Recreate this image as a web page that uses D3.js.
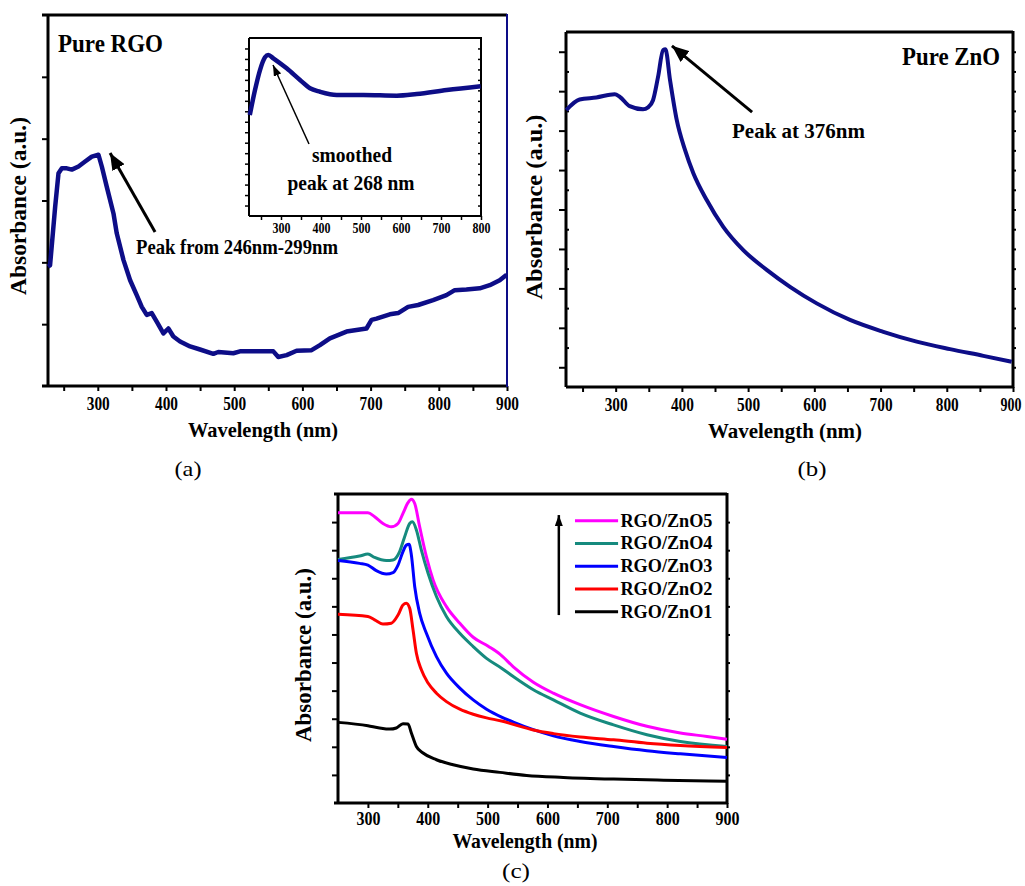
<!DOCTYPE html>
<html>
<head>
<meta charset="utf-8">
<script src="https://cdn.jsdelivr.net/npm/d3@7"></script>
<style>
  body { margin: 0; background: #fff; }
  svg text { font-family: "Liberation Serif", "Times New Roman", Tinos, "Nimbus Roman", Times, serif; font-weight: bold; fill: #000; }
</style>
</head>
<body>
<script>
// ---- data: [wavelength nm, absorbance a.u.] ----
var pureRgo = [[227,1.93],[230,1.95],[237.5,2.9],[242.4,3.44],[247.3,3.52],[254.6,3.52],[261.9,3.5],
  [271.7,3.55],[281.4,3.63],[291.2,3.71],[301,3.74],[305.9,3.55],[313.2,3.22],[323,2.79],[327.8,2.47],
  [337.6,2.04],[347.4,1.71],[357.1,1.47],[364.5,1.28],[371.8,1.15],[379.1,1.18],[386.4,1.04],[396.2,0.85],
  [403.5,0.93],[410.8,0.8],[420.6,0.72],[435.3,0.64],[449.9,0.59],[469.4,0.52],[476.7,0.55],[498.7,0.53],
  [508.5,0.56],[547.6,0.56],[557.4,0.56],[564.6,0.47],[576.9,0.5],[591.5,0.57],[613.5,0.58],[625.7,0.66],
  [640.3,0.77],[664.7,0.88],[694,0.93],[701.4,1.07],[708.7,1.09],[728.2,1.16],[740.4,1.18],[755,1.28],
  [769.7,1.31],[791.7,1.39],[811.2,1.47],[823.4,1.55],[840.5,1.56],[860,1.58],[874.7,1.63],[889.3,1.71],
  [899.5,1.8]];

var smoothedRgo = [[222,9.65],[235,12.03],[247.5,13.94],[260,15.16],[268.3,15.38],[280.8,15.06],
  [314.2,14.1],[347.5,12.99],[372.5,12.2],[397.5,11.87],[439.2,11.56],[505.8,11.56],[589.2,11.49],
  [639.2,11.65],[714.2,12.03],[799,12.4]];

var pureZno = [[225.4,7.02],[245.5,7.29],[270.8,7.34],[298.5,7.42],[306,7.36],[321.2,7.12],[341.3,7.04],
  [348.9,7.09],[356.4,7.27],[364,7.86],[371.6,8.54],[375.2,8.56],[382.1,7.78],[392.2,6.77],[404.7,6.01],
  [417.3,5.42],[437.5,4.74],[462.5,4.06],[492.7,3.47],[528.1,2.97],[563.3,2.54],[603.6,2.12],[653.9,1.7],
  [704.2,1.4],[754.6,1.15],[804.9,0.96],[855.2,0.79],[898,0.64]];

var rgoZno5 = [[250,10.33],[300,10.33],[311.2,10.19],[325.1,9.95],[339.1,9.83],[350.3,9.95],[358.6,10.31],
  [367,10.69],[372.6,10.81],[378.2,10.66],[386.5,9.83],[397.7,8.77],[408.9,7.94],[431.2,6.99],[453.5,6.4],
  [475.9,5.9],[501,5.58],[520.5,5.3],[542.9,4.85],[576.4,4.3],[609.9,3.91],[654.6,3.5],[710.4,3.08],
  [766.2,2.73],[822,2.49],[866.7,2.37],[900,2.27]];
var rgoZno4 = [[250,8.67],[286,8.79],[300,8.86],[311.2,8.74],[330.7,8.63],[341.9,8.65],[353,8.95],
  [361.4,9.48],[369.8,9.95],[374.3,10.01],[381,9.72],[389.3,9.0],[400.5,8.18],[414.5,7.35],[431.2,6.64],
  [453.5,6.04],[475.9,5.57],[498.2,5.15],[523.3,4.8],[542.9,4.5],[576.4,4.03],[609.9,3.67],[654.6,3.2],
  [710.4,2.78],[766.2,2.43],[822,2.19],[900,2.01]];
var rgoZno3 = [[250,8.63],[286,8.53],[300,8.47],[314,8.27],[330.7,8.15],[341.9,8.2],[350.3,8.47],
  [358.6,8.95],[364.2,9.18],[368.7,9.21],[372.6,8.83],[378.2,7.7],[386.5,6.75],[397.7,6.04],[414.5,5.21],
  [431.2,4.62],[453.5,4.09],[475.9,3.67],[498.2,3.34],[523.3,3.06],[542.9,2.88],[576.4,2.61],[609.9,2.39],
  [654.6,2.19],[710.4,2.01],[766.2,1.86],[822,1.75],[900,1.62]];
var rgoZno2 = [[250,6.72],[300,6.64],[311.2,6.52],[325.1,6.37],[339.1,6.4],[350.3,6.69],[358.6,7.05],
  [364.2,7.11],[369.8,6.93],[375.4,6.16],[381,5.33],[389.3,4.74],[400.5,4.27],[414.5,3.91],[431.2,3.61],
  [453.5,3.34],[475.9,3.16],[498.2,3.03],[523.3,2.92],[542.9,2.8],[576.4,2.6],[609.9,2.47],[654.6,2.35],
  [710.4,2.25],[766.2,2.13],[822,2.05],[900,1.98]];
var rgoZno1 = [[250,2.87],[300,2.75],[319.5,2.67],[336.3,2.63],[347.5,2.67],[358.6,2.82],[367,2.81],
  [372.6,2.49],[381,2.01],[392.1,1.78],[414.5,1.54],[442.4,1.36],[475.9,1.21],[520.5,1.09],[565.2,0.98],
  [626.6,0.91],[710.4,0.85],[794.1,0.81],[900,0.77]];

var blendNames = ["RGO/ZnO5", "RGO/ZnO4", "RGO/ZnO3", "RGO/ZnO2", "RGO/ZnO1"];
var blendSeries = [rgoZno5, rgoZno4, rgoZno3, rgoZno2, rgoZno1];
var blendColors = ["#ff00ff", "#168a7e", "#0000ff", "#ff0000", "#000000"];

var majorA = [300, 400, 500, 600, 700, 800, 900];
var minorA = [250, 350, 450, 550, 650, 750, 850];
var majorInset = [300, 400, 500, 600, 700, 800];
var minorInset = [250, 350, 450, 550, 650, 750];

var navy = "#0d0d87";

var svg = d3.select("body").append("svg")
    .attr("width", 1025)
    .attr("height", 886);

var defs = svg.append("defs");
function marker(id, len, wid) {
    defs.append("marker")
        .attr("id", id)
        .attr("markerUnits", "userSpaceOnUse")
        .attr("viewBox", "0 0 " + len + " " + wid)
        .attr("refX", len).attr("refY", wid / 2)
        .attr("markerWidth", len).attr("markerHeight", wid)
        .attr("orient", "auto")
        .append("path")
        .attr("d", "M0,0L" + len + "," + (wid / 2) + "L0," + wid + "Z")
        .attr("fill", "#000");
}
marker("bigHead", 17, 14);
marker("smallHead", 11, 8);

function squeeze(sel, w) {
    sel.attr("textLength", w).attr("lengthAdjust", "spacingAndGlyphs");
}

function label(x, y, txt, size, w, opts) {
    opts = opts || {};
    var t = svg.append("text")
        .attr("x", x).attr("y", y)
        .attr("font-size", size)
        .attr("text-anchor", opts.anchor || "start")
        .text(txt);
    if (opts.rotate) t.attr("transform", "rotate(-90," + x + "," + y + ")");
    if (opts.normal) t.style("font-weight", "normal");
    if (w) squeeze(t, w);
    return t;
}

// frame + ticks for one panel
function drawAxes(x, y, o) {
    var g = svg.append("g");
    var x0 = x.range()[0], x1 = x.range()[1], y0 = y.range()[0], y1 = y.range()[1];

    var bx = g.append("g").attr("transform", "translate(0," + y0 + ")")
        .call(d3.axisBottom(x).tickValues(o.major).tickSize(o.tick).tickPadding(o.pad).tickFormat(d3.format("d")));
    bx.append("g").call(d3.axisBottom(x).tickValues(o.minor).tickSize(o.tick).tickFormat(""));
    bx.selectAll(".domain").remove();
    bx.attr("font-family", null).attr("font-size", o.labelSize);
    bx.selectAll(".tick line").attr("stroke-width", o.tickW);
    squeeze(bx.selectAll(".tick text"), o.labelW);

    var ly = g.append("g").attr("transform", "translate(" + x0 + ",0)")
        .call(d3.axisLeft(y).tickValues(o.yTicks).tickSize(o.ytick).tickFormat(""));
    if (o.yMinor) {
        ly.append("g").call(d3.axisLeft(y).tickValues(o.yMinor).tickSize(-3).tickFormat(""));
    }
    ly.selectAll(".domain").remove();
    ly.selectAll(".tick line").attr("stroke-width", o.tickW);

    var ry = g.append("g").attr("transform", "translate(" + x1 + ",0)")
        .call(d3.axisRight(y).tickValues(o.yTicks.concat(o.yMinor || [])).tickSize(o.rtick).tickFormat(""));
    ry.selectAll(".domain").remove();
    ry.selectAll(".tick line").attr("stroke-width", o.tickW).attr("stroke", o.rightColor || "#000");

    var ext = o.ext || 0;
    g.append("line").attr("x1", x0 - ext).attr("x2", x1).attr("y1", y0).attr("y2", y0)
        .attr("stroke", "#000").attr("stroke-width", o.frameW);
    g.append("line").attr("x1", x0 - ext).attr("x2", x1).attr("y1", y1).attr("y2", y1)
        .attr("stroke", "#000").attr("stroke-width", o.frameW);
    g.append("line").attr("x1", x0).attr("x2", x0).attr("y1", y1).attr("y2", y0)
        .attr("stroke", "#000").attr("stroke-width", o.frameW);
    g.append("line").attr("x1", x1).attr("x2", x1).attr("y1", y1 - 1).attr("y2", y0 + 1)
        .attr("stroke", o.rightColor || "#000").attr("stroke-width", o.rightW || o.frameW);
    return bx;
}

function drawLine(data, x, y, color, width, curve) {
    var line = d3.line()
        .x(function (d) { return x(d[0]); })
        .y(function (d) { return y(d[1]); })
        .curve(curve || d3.curveLinear);
    svg.append("path")
        .datum(data)
        .attr("d", line)
        .attr("fill", "none")
        .attr("stroke", color)
        .attr("stroke-width", width)
        .attr("stroke-linejoin", "round");
}

function arrow(x, y, from, to, width, head) {
    svg.append("line")
        .attr("x1", x(from[0])).attr("y1", y(from[1]))
        .attr("x2", x(to[0])).attr("y2", y(to[1]))
        .attr("stroke", "#000").attr("stroke-width", width)
        .attr("marker-end", "url(#" + head + ")");
}

// ---- (a) pure RGO ----
var xA = d3.scaleLinear().domain([227, 900]).range([48, 507]);
var yA = d3.scaleLinear().domain([0, 6]).range([386, 15]);
drawAxes(xA, yA, {
    major: majorA, minor: minorA, tick: 5, pad: 6, labelSize: 18, labelW: 23, tickW: 2,
    yTicks: [1, 2, 3, 4, 5], ytick: 6, rtick: 1, frameW: 3, ext: 6,
    rightColor: navy, rightW: 2
});
drawLine(pureRgo, xA, yA, navy, 4.5);
arrow(xA, yA, [384, 2.49], [318, 3.77], 3, "bigHead");
label(58, 52, "Pure RGO", 26, 105);
label(136, 254, "Peak from 246nm-299nm", 22, 202);
label(26, 206, "Absorbance (a.u.)", 24, 178, { rotate: true, anchor: "middle" });
label(263, 437, "Wavelength (nm)", 22, 150, { anchor: "middle" });
label(188, 476, "(a)", 22, 27, { anchor: "middle", normal: true });

// inset
var xI = d3.scaleLinear().domain([220, 800]).range([249, 481]);
var yI = d3.scaleLinear().domain([0, 17]).range([216, 38]);
svg.append("rect").attr("x", 249).attr("y", 38).attr("width", 232).attr("height", 178).attr("fill", "#fff");
drawAxes(xI, yI, {
    major: majorInset, minor: minorInset, tick: 4, pad: 3, labelSize: 14, labelW: 18, tickW: 1.5,
    yTicks: d3.range(1, 17), ytick: 4, rtick: -3, frameW: 2
});
drawLine(smoothedRgo, xI, yI, navy, 4.5, d3.curveMonotoneX);
arrow(xI, yI, [370, 6.88], [280, 14.42], 1.5, "smallHead");
label(352, 162, "smoothed", 21, 80, { anchor: "middle" });
label(351, 190, "peak at 268 nm", 21, 127, { anchor: "middle" });

// ---- (b) pure ZnO ----
var xB = d3.scaleLinear().domain([225, 900]).range([566, 1013]);
var yB = d3.scaleLinear().domain([0, 9]).range([387, 32]);
var bAxis = drawAxes(xB, yB, {
    major: majorA, minor: minorA, tick: 5, pad: 6, labelSize: 18, labelW: 23, tickW: 2,
    yTicks: d3.range(0.5, 9, 1), yMinor: d3.range(1, 9), ytick: 7, rtick: 3, frameW: 3, ext: 0
});
// the last label sits flush with the page edge
bAxis.selectAll(".tick text").filter(function (d) { return d === 900; })
    .attr("text-anchor", "end").attr("x", 8).attr("textLength", 21);
drawLine(pureZno, xB, yB, navy, 4, d3.curveMonotoneX);
arrow(xB, yB, [506, 6.97], [385, 8.65], 3, "bigHead");
label(902, 65, "Pure ZnO", 26, 98);
label(732, 138, "Peak at 376nm", 22, 133);
label(542, 207, "Absorbance (a.u.)", 24, 185, { rotate: true, anchor: "middle" });
label(785, 438, "Wavelength (nm)", 22, 154, { anchor: "middle" });
label(812, 476, "(b)", 22, 29, { anchor: "middle", normal: true });

// ---- (c) RGO/ZnO blends ----
var xC = d3.scaleLinear().domain([250, 900]).range([338, 727]);
var yC = d3.scaleLinear().domain([0, 11]).range([803, 494]);
drawAxes(xC, yC, {
    major: majorA, minor: minorA.slice(1), tick: 5, pad: 4, labelSize: 18, labelW: 24, tickW: 2,
    yTicks: d3.range(1, 11), ytick: 6, rtick: 3, frameW: 3, ext: 4
});
blendSeries.forEach(function (s, i) {
    drawLine(s, xC, yC, blendColors[i], 3, d3.curveMonotoneX);
});
arrow(xC, yC, [619, 6.69], [619, 10.25], 2.5, "smallHead");
blendNames.forEach(function (name, i) {
    var v = 10.05 - i * 0.81;
    svg.append("line")
        .attr("x1", xC(646)).attr("x2", xC(718))
        .attr("y1", yC(v)).attr("y2", yC(v))
        .attr("stroke", blendColors[i]).attr("stroke-width", 3);
    label(xC(722), yC(v) + 6, name, 19, 92);
});
label(311, 655, "Absorbance (a.u.)", 24, 174, { rotate: true, anchor: "middle" });
label(525, 848, "Wavelength (nm)", 22, 145, { anchor: "middle" });
label(516, 878, "(c)", 22, 28, { anchor: "middle", normal: true });
</script>
</body>
</html>
